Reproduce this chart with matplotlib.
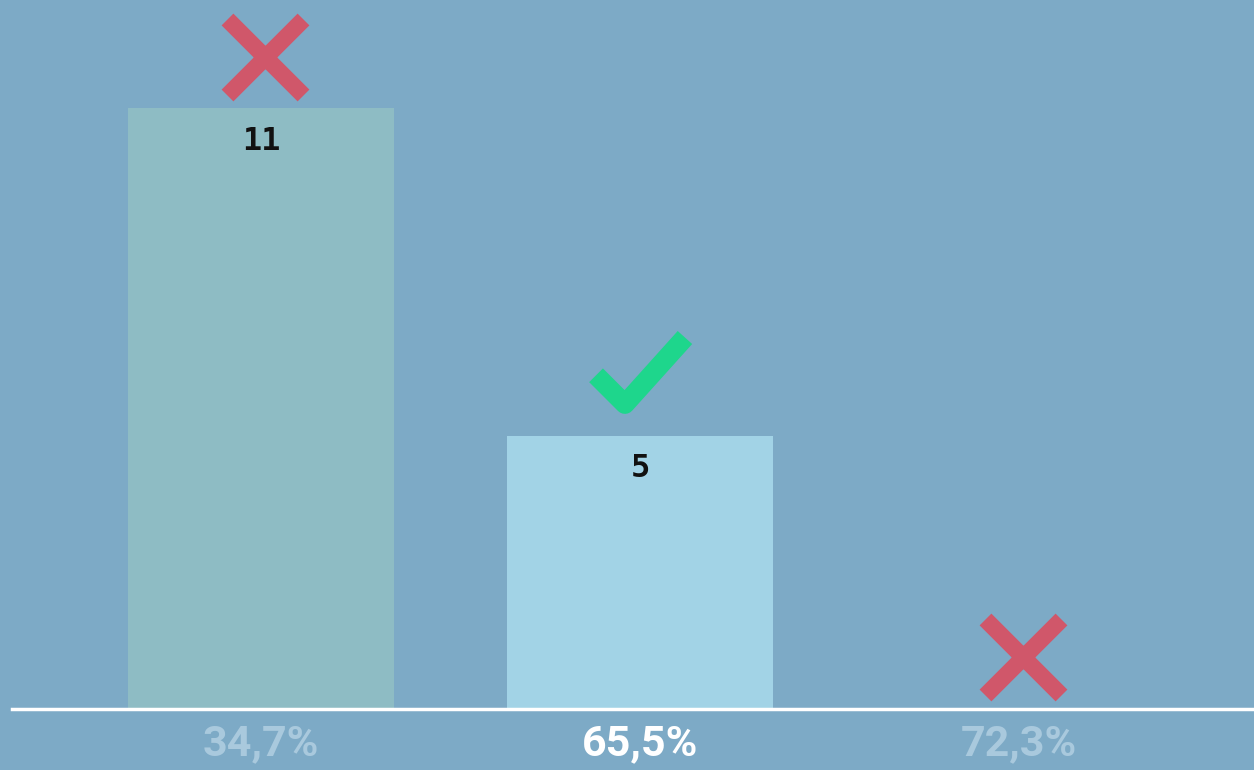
import numpy as np
import matplotlib.pyplot as plt
from matplotlib.path import Path

# data
categorias = ["34,7%", "65,5%", "72,3%"]
valores = [11, 5, 0]
acerto = [False, True, False]

fundo = "#7daac6"
cores_barras = ["#8ebcc4", "#a2d3e6", "#a2d3e6"]
cores_rotulos = ["#a9c9dd", "#ffffff", "#a9c9dd"]

fig = plt.figure(figsize=(12.54, 7.7), dpi=100, facecolor=fundo)
ax = fig.add_axes([12 / 1254, 61 / 770, 1 - 12 / 1254, 709 / 770])
ax.set_facecolor(fundo)

x = np.arange(len(categorias))
ax.bar(x, valores, width=0.70, color=cores_barras, zorder=2)

# marcador de "certo"
check = Path([(-1.0, 0.05), (-0.35, -0.6), (1.0, 0.9)],
             [Path.MOVETO, Path.LINETO, Path.LINETO])

for xi, v, ok in zip(x, valores, acerto):
    if v > 0:
        ax.text(xi, v - 0.6, str(v), ha="center", va="center",
                fontsize=23, fontweight="bold", family="DejaVu Sans Mono",
                color="#111111", zorder=3)
    if ok:
        ax.plot(xi, v + 1.08, marker=check, markersize=64, mfc="none",
                mec="#1ed68c", mew=14, zorder=3, clip_on=False)
    else:
        ax.plot(xi + 0.01, v + 0.95, marker="x", markersize=55, mec="#d0576a",
                mew=12, zorder=3, clip_on=False)

ax.set_xlim(-0.657, 2.62)
ax.set_ylim(0, 709 / 54.6)

ax.set_xticks(x)
ax.set_xticklabels(categorias, fontsize=31, fontweight="bold", family="Roboto")
for lbl, c in zip(ax.get_xticklabels(), cores_rotulos):
    lbl.set_color(c)
ax.tick_params(axis="x", length=0, pad=10)
ax.set_yticks([])

for s in ["top", "right", "left"]:
    ax.spines[s].set_visible(False)
ax.spines["bottom"].set_color("white")
ax.spines["bottom"].set_linewidth(2.5)
ax.spines["bottom"].set_zorder(4)

plt.savefig("out.png", dpi=100, facecolor=fundo)
